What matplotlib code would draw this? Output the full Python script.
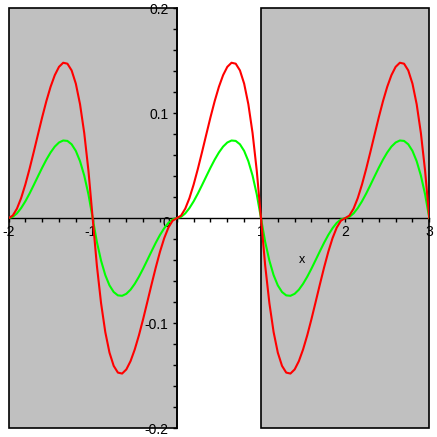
import numpy as np
import matplotlib
matplotlib.use("Agg")
import matplotlib.pyplot as plt
from matplotlib.ticker import MultipleLocator

plt.rcParams['font.family'] = ['Liberation Sans', 'DejaVu Sans']

# x grid (step 0.05 from -2 to 3)
x_vals = np.round(np.arange(101) * 0.05 - 2.0, 2)

red_vals = [
    0, 0.0024, 0.009, 0.0191, 0.032, 0.0469, 0.063, 0.0796, 0.096, 0.1114,
    0.125, 0.1361, 0.144, 0.1479, 0.147, 0.1406, 0.128, 0.1084, 0.081, 0.0451,
    0,
    -0.0451, -0.081, -0.1084, -0.128, -0.1406, -0.147, -0.1479, -0.144, -0.1361, -0.125,
    -0.1114, -0.096, -0.0796, -0.063, -0.0469, -0.032, -0.0191, -0.009, -0.0024, 0,
    0.0024, 0.009, 0.0191, 0.032, 0.0469, 0.063, 0.0796, 0.096, 0.1114, 0.125,
    0.1361, 0.144, 0.1479, 0.147, 0.1406, 0.128, 0.1084, 0.081, 0.0451, 0,
    -0.0451, -0.081, -0.1084, -0.128, -0.1406, -0.147, -0.1479, -0.144, -0.1361, -0.125,
    -0.1114, -0.096, -0.0796, -0.063, -0.0469, -0.032, -0.0191, -0.009, -0.0024, 0,
    0.0024, 0.009, 0.0191, 0.032, 0.0469, 0.063, 0.0796, 0.096, 0.1114, 0.125,
    0.1361, 0.144, 0.1479, 0.147, 0.1406, 0.128, 0.1084, 0.081, 0.0451, 0,
]

green_vals = [
    0, 0.0012, 0.0045, 0.0096, 0.016, 0.0234, 0.0315, 0.0398, 0.048, 0.0557,
    0.0625, 0.0681, 0.072, 0.0739, 0.0735, 0.0703, 0.064, 0.0542, 0.0405, 0.0226,
    0,
    -0.0226, -0.0405, -0.0542, -0.064, -0.0703, -0.0735, -0.0739, -0.072, -0.0681, -0.0625,
    -0.0557, -0.048, -0.0398, -0.0315, -0.0234, -0.016, -0.0096, -0.0045, -0.0012, 0,
    0.0012, 0.0045, 0.0096, 0.016, 0.0234, 0.0315, 0.0398, 0.048, 0.0557, 0.0625,
    0.0681, 0.072, 0.0739, 0.0735, 0.0703, 0.064, 0.0542, 0.0405, 0.0226, 0,
    -0.0226, -0.0405, -0.0542, -0.064, -0.0703, -0.0735, -0.0739, -0.072, -0.0681, -0.0625,
    -0.0557, -0.048, -0.0398, -0.0315, -0.0234, -0.016, -0.0096, -0.0045, -0.0012, 0,
    0.0012, 0.0045, 0.0096, 0.016, 0.0234, 0.0315, 0.0398, 0.048, 0.0557, 0.0625,
    0.0681, 0.072, 0.0739, 0.0735, 0.0703, 0.064, 0.0542, 0.0405, 0.0226, 0,
]

shaded_regions = [(-2, 0), (1, 3)]
x_tick_vals = [-2, -1, 1, 2, 3]
x_tick_labels = ['-2', '-1', '1', '2', '3']
y_tick_vals = [-0.2, -0.1, 0.1, 0.2]
y_tick_labels = ['-0.2', '-0.1', '0.1', '0.2']

fig = plt.figure(figsize=(4.37, 4.37), dpi=100)
ax = fig.add_axes([8.5 / 437, 8.7 / 437, 420.8 / 437, 420.3 / 437])
ax.set_xlim(-2, 3)
ax.set_ylim(-0.2, 0.2)

for a, b in shaded_regions:
    ax.axvspan(a, b, facecolor='#c0c0c0', edgecolor='black', linewidth=1.2,
               zorder=1, clip_on=False)

ax.plot(x_vals, green_vals, color='#00ff00', linewidth=1.5, zorder=4)
ax.plot(x_vals, red_vals, color='#ff0000', linewidth=1.5, zorder=5)

for s in ['top', 'right']:
    ax.spines[s].set_visible(False)
ax.spines['left'].set_position(('data', 0))
ax.spines['bottom'].set_position(('data', 0))
ax.spines['left'].set_linewidth(1.2)
ax.spines['bottom'].set_linewidth(1.0)
ax.spines['left'].set_zorder(3)
ax.spines['bottom'].set_zorder(3)
ax.patch.set_visible(False)

ax.set_xticks(x_tick_vals)
ax.set_xticklabels([])
ax.xaxis.set_minor_locator(MultipleLocator(0.2))
ax.set_yticks(y_tick_vals)
ax.set_yticklabels(y_tick_labels)
ax.yaxis.set_minor_locator(MultipleLocator(0.02))
ax.tick_params(which='both', direction='out', length=3, width=1, labelsize=10)
ax.tick_params(axis='y', pad=3)

# x tick labels drawn below the curves (as in the reference)
label_shift = {-2: 0.0, -1: -0.02, 1: 0.0, 2: 0.0, 3: 0.0}
label_z = {-2: 2, -1: 2, 1: 0.5, 2: 2, 3: 2}
for v, lab in zip(x_tick_vals, x_tick_labels):
    ax.text(v + label_shift[v], -0.0062, lab, fontsize=10, ha='center', va='top',
            zorder=label_z[v], clip_on=False)

ax.text(-0.127, -0.005, '0', fontsize=10, ha='center', va='center', zorder=3)
ax.text(1.49, -0.04, 'x', fontsize=9, ha='center', va='center', zorder=3)

fig.savefig('out.png', dpi=100)
